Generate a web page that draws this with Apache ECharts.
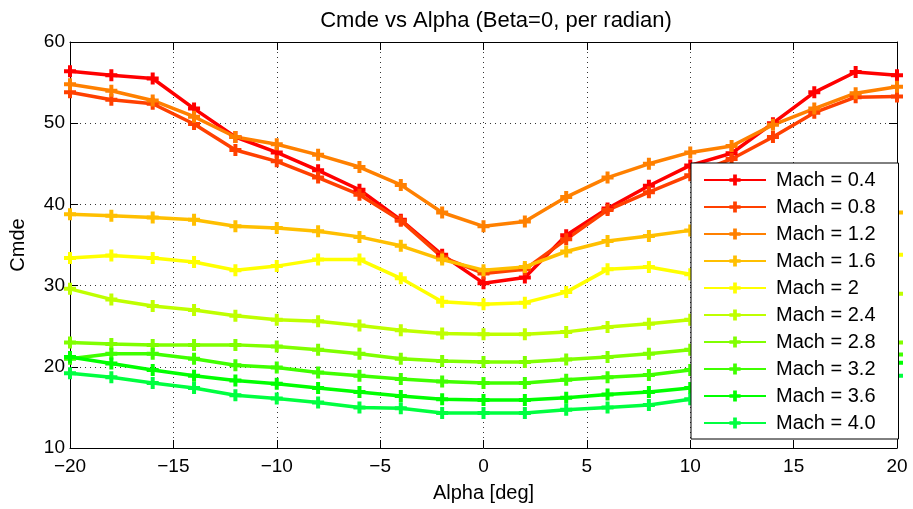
<!DOCTYPE html>
<html>
<head>
<meta charset="utf-8">
<script src="https://cdn.jsdelivr.net/npm/echarts@6/dist/echarts.min.js"></script>
<style>
  html, body { margin: 0; padding: 0; background: #fff; }
  #chart { width: 913px; height: 509px; }
</style>
</head>
<body>
<div id="chart"></div>
<script>
const alpha = [-20, -18, -16, -14, -12, -10, -8, -6, -4, -2, 0, 2, 4, 6, 8, 10, 12, 14, 16, 18, 20];
const machNames = ["Mach = 0.4", "Mach = 0.8", "Mach = 1.2", "Mach = 1.6", "Mach = 2", "Mach = 2.4", "Mach = 2.8", "Mach = 3.2", "Mach = 3.6", "Mach = 4.0"];
const colors = ["#ff0000", "#ff4000", "#ff8000", "#ffbf00", "#ffff00", "#bfff00", "#80ff00", "#40ff00", "#00ff00", "#00ff40"];

const m04 = [56.4, 55.9, 55.5, 51.8, 48.3, 46.4, 44.2, 41.8, 38.1, 33.8, 30.3, 31.0, 36.2, 39.5, 42.3, 44.8, 46.3, 50.0, 53.8, 56.3, 55.9];
const m08 = [53.8, 52.9, 52.4, 49.9, 46.7, 45.3, 43.3, 41.2, 38.0, 33.5, 31.5, 32.0, 35.7, 39.3, 41.5, 43.6, 45.6, 48.3, 51.3, 53.2, 53.3];
const m12 = [54.8, 54.0, 52.8, 50.8, 48.3, 47.4, 46.1, 44.6, 42.4, 39.0, 37.3, 37.9, 40.9, 43.3, 45.0, 46.4, 47.2, 49.8, 51.8, 53.7, 54.5];
const m16 = [38.8, 38.6, 38.4, 38.1, 37.3, 37.1, 36.7, 36.0, 34.9, 33.2, 31.9, 32.3, 34.2, 35.5, 36.1, 36.8, 37.3, 37.8, 38.3, 38.7, 39.0];
const m20 = [33.4, 33.7, 33.4, 32.9, 31.9, 32.4, 33.2, 33.2, 30.9, 28.0, 27.7, 27.9, 29.2, 32.0, 32.3, 31.4, 32.0, 32.8, 33.3, 33.6, 33.8];
const m24 = [29.6, 28.3, 27.5, 27.0, 26.3, 25.8, 25.6, 25.1, 24.5, 24.1, 24.0, 24.0, 24.3, 24.9, 25.3, 25.8, 26.2, 26.9, 27.5, 28.2, 29.0];
const m28 = [23.0, 22.8, 22.7, 22.7, 22.7, 22.5, 22.1, 21.6, 21.0, 20.7, 20.6, 20.6, 20.9, 21.2, 21.6, 22.1, 22.4, 22.6, 22.7, 22.8, 23.0];
const m32 = [21.0, 21.6, 21.6, 21.0, 20.2, 19.9, 19.3, 18.9, 18.5, 18.2, 18.0, 18.0, 18.4, 18.7, 19.0, 19.6, 20.1, 20.8, 21.4, 21.5, 21.5];
const m36 = [21.2, 20.4, 19.6, 18.9, 18.3, 17.9, 17.4, 16.9, 16.4, 16.0, 15.9, 15.9, 16.2, 16.6, 16.9, 17.4, 18.1, 18.8, 19.5, 20.2, 20.5];
const m40 = [19.2, 18.7, 18.0, 17.4, 16.5, 16.1, 15.6, 15.0, 14.9, 14.3, 14.3, 14.3, 14.7, 15.0, 15.3, 16.0, 16.5, 17.3, 17.9, 18.5, 18.9];

const allSeries = [m04, m08, m12, m16, m20, m24, m28, m32, m36, m40];

const plus = "path://M-1,-3H1V-1H3V1H1V3H-1V1H-3V-1H-1Z";
const font = "'Liberation Sans', Arial, Helvetica, sans-serif";

const chart = echarts.init(document.getElementById("chart"), null, { renderer: "canvas" });

const gridLine = { show: true, lineStyle: { color: "#333", type: [1, 4], width: 1 } };
const axisLine = { show: true, onZero: false, lineStyle: { color: "#000", width: 1 } };
const tick = { show: true, inside: true, length: 8, lineStyle: { color: "#000" } };
const minus = (v) => String(v).replace("-", "\u2212");

chart.setOption({
  animation: false,
  backgroundColor: "#fff",
  title: {
    text: "Cmde vs Alpha (Beta=0, per radian)",
    left: 491, top: 5, textAlign: "center",
    textStyle: { fontFamily: font, fontSize: 22, fontWeight: "normal", color: "#000" }
  },
  grid: { left: 69, right: 16, top: 42, bottom: 61, show: false },
  legend: {
    orient: "vertical",
    left: 691, top: 163,
    data: machNames,
    backgroundColor: "#fff",
    borderColor: "#000",
    borderWidth: 1,
    borderRadius: 0,
    padding: [7, 23, 6, 12],
    itemWidth: 62,
    itemHeight: 14,
    itemGap: 7,
    textStyle: { fontFamily: font, fontSize: 20, color: "#000", lineHeight: 20, padding: [0, 0, 0, 5] }
  },
  xAxis: [{
    type: "value", min: -20, max: 20, interval: 5,
    name: "Alpha [deg]", nameLocation: "middle", nameGap: 35,
    nameTextStyle: { fontFamily: font, fontSize: 20, color: "#000" },
    axisLine, axisTick: tick, splitLine: gridLine,
    axisLabel: { fontFamily: font, fontSize: 19, color: "#000", margin: 9, formatter: minus }
  }, {
    type: "value", min: -20, max: 20, interval: 5, position: "top",
    axisLine, axisTick: tick, splitLine: { show: false }, axisLabel: { show: false }
  }],
  yAxis: [{
    type: "value", min: 10, max: 60, interval: 10,
    name: "Cmde", nameLocation: "middle", nameGap: 42,
    nameTextStyle: { fontFamily: font, fontSize: 20, color: "#000" },
    axisLine, axisTick: tick, splitLine: gridLine,
    axisLabel: { fontFamily: font, fontSize: 19, color: "#000", margin: 5 }
  }, {
    type: "value", min: 10, max: 60, interval: 10, position: "right",
    axisLine, axisTick: tick, splitLine: { show: false }, axisLabel: { show: false }
  }],
  series: allSeries.map((vals, k) => ({
    name: machNames[k],
    type: "line",
    data: alpha.map((a, i) => [a, vals[i]]),
    color: colors[k],
    lineStyle: { width: 3.5, color: colors[k] },
    itemStyle: { color: colors[k] },
    symbol: plus,
    symbolSize: 12,
    showSymbol: true
  }))
});
</script>
</body>
</html>
